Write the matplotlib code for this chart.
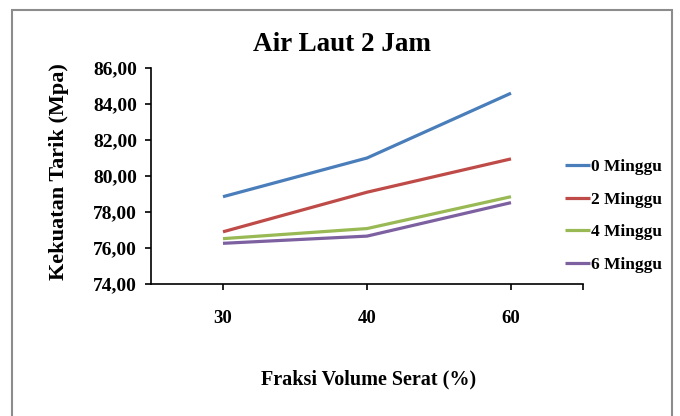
import matplotlib.pyplot as plt
from matplotlib.patches import Rectangle
from matplotlib.ticker import FuncFormatter

# data
fraksi = ['30', '40', '60']
minggu_0 = [78.85, 81.0, 84.6]
minggu_2 = [76.9, 79.1, 80.95]
minggu_4 = [76.52, 77.08, 78.85]
minggu_6 = [76.26, 76.66, 78.52]
labels = ['0 Minggu', '2 Minggu', '4 Minggu', '6 Minggu']
colors = ['#4A7EBB', '#BE4B48', '#98B954', '#7D60A0']

plt.rcParams['font.family'] = ['Liberation Serif', 'DejaVu Serif']
plt.rcParams['font.weight'] = 'bold'

fig = plt.figure(figsize=(6.8, 4.16), dpi=100)
ax = fig.add_axes([151 / 680, 1 - 284 / 416, 432 / 680, 216 / 416])

x = range(len(fraksi))
for vals, lab, col in zip([minggu_0, minggu_2, minggu_4, minggu_6], labels, colors):
    ax.plot(x, vals, color=col, lw=2.3, label=lab, solid_capstyle='butt')

ax.set_xlim(-0.5, 2.5)
ax.set_ylim(74, 86)
ax.set_yticks([74, 76, 78, 80, 82, 84, 86])
ax.yaxis.set_major_formatter(FuncFormatter(lambda v, p: f'{v:.2f}'.replace('.', ',')))
ax.set_xticks(list(x))
ax.set_xticklabels(fraksi)
ax.set_xticks([2.5], minor=True)

for s in ['top', 'right']:
    ax.spines[s].set_visible(False)
for s in ['left', 'bottom']:
    ax.spines[s].set_linewidth(1.2)

ax.tick_params(axis='y', direction='out', length=4, width=1.2, pad=6, labelsize=14)
ax.tick_params(axis='x', which='both', direction='out', length=4, width=1.2, pad=15, labelsize=13.5)

fig.text(342 / 680, 1 - 51 / 416, 'Air Laut 2 Jam', ha='center', va='baseline',
         fontsize=19.5, fontweight='bold')
fig.text(59 / 680, 1 - 172 / 416, 'Kekuatan Tarik (Mpa)', rotation=90, ha='center',
         va='center', fontsize=16, fontweight='bold')
fig.text(369 / 680, 1 - 379 / 416, 'Fraksi Volume Serat (%)', ha='center', va='center',
         fontsize=14.5, fontweight='bold')

ax.legend(loc='center left', bbox_to_anchor=(565 / 680, 1 - 216 / 416),
          bbox_transform=fig.transFigure, frameon=False, fontsize=12.5,
          handlelength=1.45, handletextpad=0.05, labelspacing=0.95,
          borderpad=0, borderaxespad=0)

# outer chart border
fig.patches.append(Rectangle((12 / 680, -0.02), 660 / 680, 1 - 10 / 416 + 0.02,
                             transform=fig.transFigure, fill=False,
                             edgecolor='#8C8C8C', lw=1.5))

fig.savefig('out.png', dpi=100)
